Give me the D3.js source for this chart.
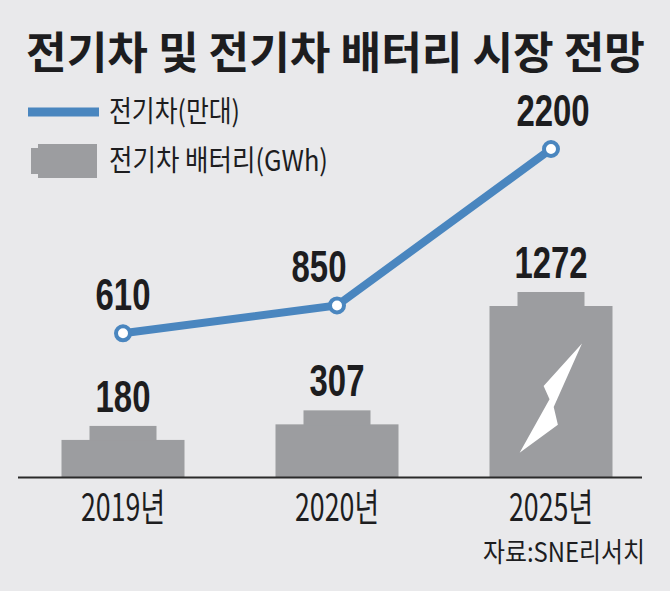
<!DOCTYPE html>
<html>
<head>
<meta charset="utf-8">
<script src="https://cdn.jsdelivr.net/npm/d3@7"></script>
<style>
  html, body { margin: 0; padding: 0; background: #e9e9eb; }
  svg { display: block; }
</style>
</head>
<body>
<svg id="chart"></svg>
<script>
// chart data
const years    = ["2019년", "2020년", "2025년"]
const evUnits  = [610, 850, 2200]      // 전기차(만대)
const batteryGWh = [180, 307, 1272]    // 전기차 배터리(GWh)

const title  = "전기차 및 전기차 배터리 시장 전망"
const legendLabels = ["전기차(만대)", "전기차 배터리(GWh)"]
const source = "자료:SNE리서치"

const width = 670, height = 591
const baseline = 477
const blue = "#4a86bf", grey = "#9c9da0", ink = "#1d1d1f"
const numFont = "'Liberation Sans Narrow', 'Liberation Sans', Arial, sans-serif"
const korFont = "'Liberation Sans Narrow', 'Noto Sans CJK KR', sans-serif"

let svg = d3.select("#chart")
  .attr("width", width)
  .attr("height", height)

svg.append("rect").attr("width", width).attr("height", height).attr("fill", "#e9e9eb")

// scales
let x = d3.scalePoint().domain(years).range([123, 551])
let yBar = d3.scaleLinear().domain([0, d3.max(batteryGWh)]).range([baseline - 29, 292])
let yLine = d3.scaleLinear().domain([0, d3.max(evUnits)]).range([404, 149])

// title
svg.append("text")
  .text(title)
  .attr("x", 26).attr("y", 69)
  .attr("textLength", 619).attr("lengthAdjust", "spacingAndGlyphs")
  .style("font-family", "'Noto Sans CJK KR', sans-serif")
  .style("font-weight", "bold")
  .style("font-size", "44px")
  .style("fill", ink)

// legend
svg.append("line")
  .attr("x1", 28).attr("x2", 99).attr("y1", 112).attr("y2", 112)
  .attr("stroke", blue).attr("stroke-width", 9)
svg.append("rect").attr("x", 31).attr("y", 148).attr("width", 8).attr("height", 26).attr("fill", grey)
svg.append("rect").attr("x", 38).attr("y", 144).attr("width", 59).attr("height", 34).attr("fill", grey)

svg.selectAll(".legend-text")
  .data(legendLabels)
  .join("text")
  .attr("class", "legend-text")
  .text(d => d)
  .attr("x", 109)
  .attr("y", (d, i) => i == 0 ? 122 : 171)
  .attr("textLength", (d, i) => i == 0 ? 131 : 219)
  .attr("lengthAdjust", "spacingAndGlyphs")
  .style("font-family", "'Noto Sans CJK KR', sans-serif")
  .style("font-size", "29px")
  .style("fill", ink)

// batteries (bars)
const bodyW = 123, capW = 67, capH = 14
let bars = svg.append("g").selectAll("g")
  .data(years.map((y, i) => ({year: y, value: batteryGWh[i]})))
  .join("g")

bars.append("rect")
  .attr("x", d => x(d.year) - bodyW / 2)
  .attr("y", d => yBar(d.value) + capH)
  .attr("width", bodyW)
  .attr("height", d => baseline - yBar(d.value) - capH)
  .attr("fill", grey)

bars.append("rect")
  .attr("x", d => x(d.year) - capW / 2)
  .attr("y", d => yBar(d.value))
  .attr("width", capW)
  .attr("height", capH + 1)
  .attr("fill", grey)

// lightning bolt on the last battery, placed relative to its body
const bolt = [[0.752, 0.219], [0.440, 0.468], [0.488, 0.545], [0.245, 0.858], [0.556, 0.694], [0.522, 0.590]]
let last = {year: years[years.length - 1], value: batteryGWh[batteryGWh.length - 1]}
let bx0 = x(last.year) - bodyW / 2, by0 = yBar(last.value) + capH, bh = baseline - by0
svg.append("polygon")
  .attr("points", bolt.map(p => [bx0 + p[0] * bodyW, by0 + p[1] * bh].join(",")).join(" "))
  .attr("fill", "#fff")

// bar value labels
bars.append("text")
  .text(d => d.value)
  .attr("x", d => x(d.year))
  .attr("y", d => yBar(d.value) - 14)
  .attr("text-anchor", "middle")
  .attr("textLength", d => String(d.value).length * 18.3)
  .attr("lengthAdjust", "spacingAndGlyphs")
  .style("font-family", numFont)
  .style("font-weight", "bold")
  .style("font-size", "45px")
  .style("fill", ink)

// axis line
svg.append("line")
  .attr("x1", 18).attr("x2", 642).attr("y1", baseline + 0.5).attr("y2", baseline + 0.5)
  .attr("stroke", "#2a2a2a").attr("stroke-width", 2)

// year labels
svg.selectAll(".year")
  .data(years)
  .join("text")
  .attr("class", "year")
  .text(d => d)
  .attr("x", d => x(d))
  .attr("y", 521)
  .attr("text-anchor", "middle")
  .attr("textLength", 84)
  .attr("lengthAdjust", "spacingAndGlyphs")
  .style("font-family", korFont)
  .style("font-size", "38px")
  .style("fill", ink)

// EV line
let pts = years.map((y, i) => ({year: y, value: evUnits[i]}))
svg.append("path")
  .datum(pts)
  .attr("d", d3.line().x(d => x(d.year)).y(d => yLine(d.value)))
  .attr("fill", "none")
  .attr("stroke", blue)
  .attr("stroke-width", 8)

svg.selectAll(".dot")
  .data(pts)
  .join("circle")
  .attr("class", "dot")
  .attr("cx", d => x(d.year))
  .attr("cy", d => yLine(d.value))
  .attr("r", 7)
  .attr("fill", "#fff")
  .attr("stroke", blue)
  .attr("stroke-width", 4)

// line value labels (middle one nudged left, clear of the line)
const lineLabelDx = [0, -18, 2]
svg.selectAll(".ev-label")
  .data(pts)
  .join("text")
  .attr("class", "ev-label")
  .text(d => d.value)
  .attr("x", (d, i) => x(d.year) + lineLabelDx[i])
  .attr("y", d => yLine(d.value) - 23)
  .attr("text-anchor", "middle")
  .attr("textLength", d => String(d.value).length * 18.3)
  .attr("lengthAdjust", "spacingAndGlyphs")
  .style("font-family", numFont)
  .style("font-weight", "bold")
  .style("font-size", "45px")
  .style("fill", ink)

// source
svg.append("text")
  .text(source)
  .attr("x", 645).attr("y", 562)
  .attr("text-anchor", "end")
  .attr("textLength", 162)
  .attr("lengthAdjust", "spacingAndGlyphs")
  .style("font-family", korFont)
  .style("font-size", "27px")
  .style("fill", ink)
</script>
</body>
</html>
